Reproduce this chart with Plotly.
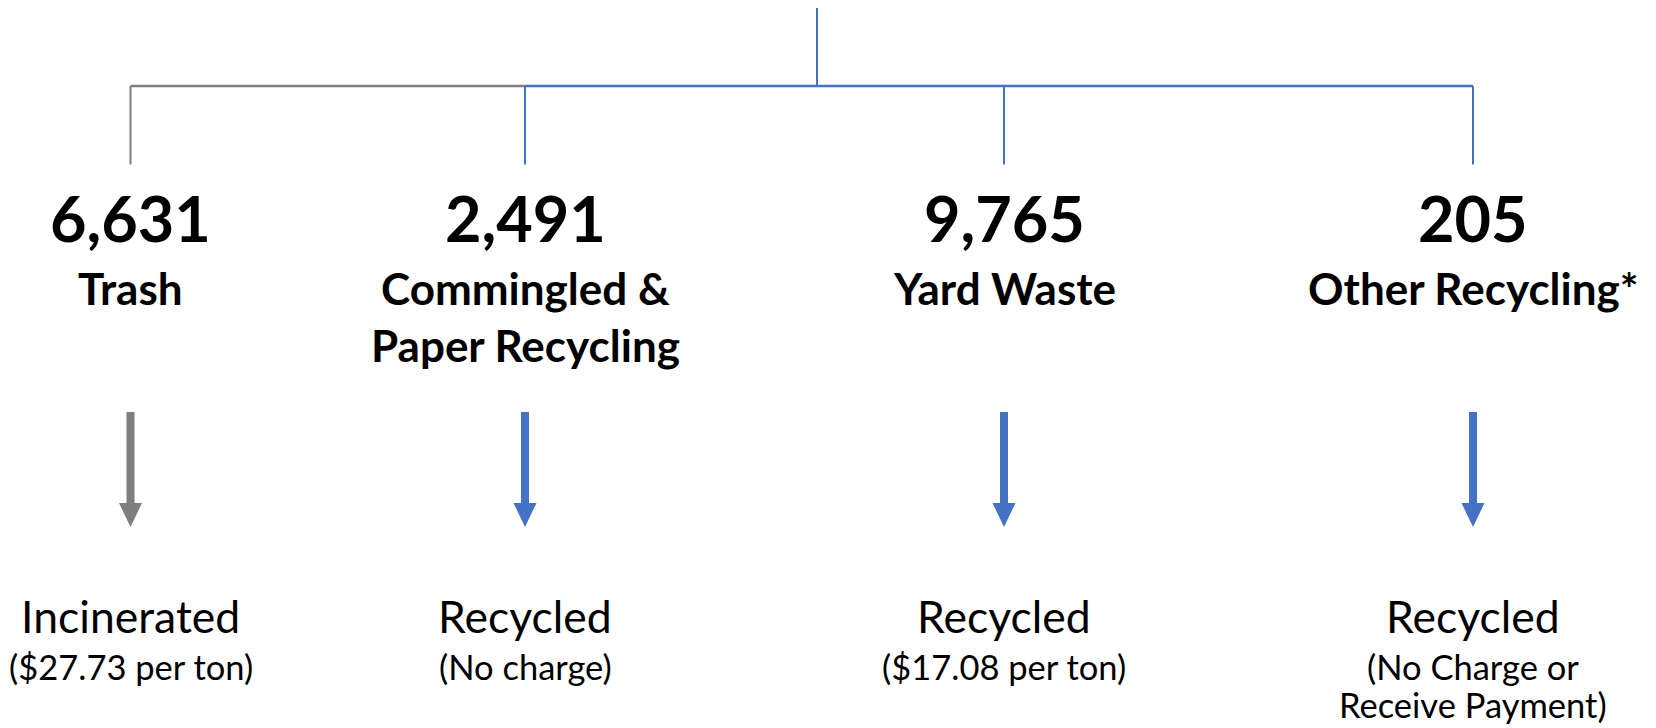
import plotly.graph_objects as go

# ---- data ----
categories = [["Trash"], ["Commingled &", "Paper Recycling"], ["Yard Waste"], ["Other Recycling*"]]
tons = [6631, 2491, 9765, 205]
outcomes = ["Incinerated", "Recycled", "Recycled", "Recycled"]
costs = [["($27.73 per ton)"], ["(No charge)"], ["($17.08 per ton)"], ["(No Charge or", "Receive Payment)"]]
streams = ["trash", "recycling", "recycling", "recycling"]

# ---- layout / style ----
W, H = 1656, 728
PAGE_MARGIN = 8  # default body margin of the html page
COLORS = {"trash": "#7F7F7F", "recycling": "#4472C4"}
FONT = "Lato"
node_x = [130.5, 525, 1004, 1473]
root_x = 817
root_top, bar_y, drop_bottom = 7, 86, 164.5
num_y, lab_y, lab_dy = 217, 288, 57
arr_top, arr_tip, shaft_hw, head_hw, head_len = 412, 527, 4, 11.5, 24
out_y, cost_y, cost_dy = 615, 666, 38

fig = go.Figure()

def line(xs, ys, color, width=2):
    fig.add_trace(go.Scatter(x=xs, y=ys, mode="lines", line=dict(color=color, width=width),
                             hoverinfo="skip", showlegend=False))

# root line
line([root_x, root_x], [root_top, bar_y], COLORS["recycling"])
# horizontal connector: gray segment to first node, blue for the rest
line([node_x[0], node_x[1]], [bar_y, bar_y], COLORS[streams[0]], 2.4)
line([node_x[1], node_x[-1]], [bar_y, bar_y], COLORS["recycling"], 2.4)
for x, s in zip(node_x, streams):
    line([x, x], [bar_y, drop_bottom], COLORS[s])

# arrows
for x, s in zip(node_x, streams):
    hb = arr_tip - head_len
    px = [x - shaft_hw, x + shaft_hw, x + shaft_hw, x + head_hw, x, x - head_hw, x - shaft_hw, x - shaft_hw]
    py = [arr_top, arr_top, hb, hb, arr_tip, hb, hb, arr_top]
    fig.add_trace(go.Scatter(x=px, y=py, mode="lines", fill="toself", fillcolor=COLORS[s],
                             line=dict(color=COLORS[s], width=0), hoverinfo="skip", showlegend=False))

def text(x, y, t, size, bold=False):
    fig.add_annotation(x=x, y=y, xref="x", yref="y", text=f"<b>{t}</b>" if bold else t,
                       showarrow=False, xanchor="center", yanchor="middle",
                       font=dict(family=FONT, size=size, color="#000000"))

for i, x in enumerate(node_x):
    text(x, num_y, f"{tons[i]:,}", 63, bold=True)
    for j, ln in enumerate(categories[i]):
        text(x, lab_y + j * lab_dy, ln, 44, bold=True)
    text(x, out_y, outcomes[i], 44.5)
    for j, ln in enumerate(costs[i]):
        text(x, cost_y + j * cost_dy, ln, 34.5)

fig.update_layout(
    width=W - PAGE_MARGIN, height=H - PAGE_MARGIN, margin=dict(l=0, r=0, t=0, b=0),
    paper_bgcolor="white", plot_bgcolor="white",
    xaxis=dict(range=[PAGE_MARGIN, W], visible=False, fixedrange=True),
    yaxis=dict(range=[H, PAGE_MARGIN], visible=False, fixedrange=True),
    showlegend=False,
)
fig.write_html("out.html")
